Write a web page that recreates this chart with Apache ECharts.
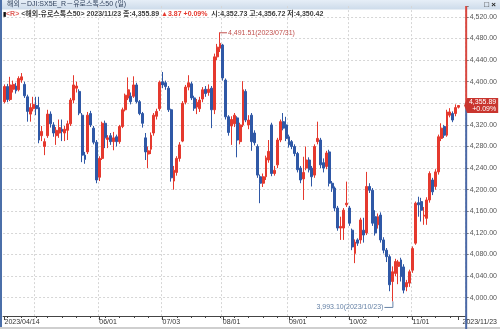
<!DOCTYPE html>
<html><head><meta charset="utf-8">
<script src="https://cdn.jsdelivr.net/npm/echarts@6/dist/echarts.min.js"></script>
<style>html,body{margin:0;padding:0;background:#fff;overflow:hidden}#c{width:500px;height:329px}</style>
</head><body><div id="c"></div>
<script>
const dates = [
'2023/04/14','2023/04/17','2023/04/18','2023/04/19','2023/04/20','2023/04/21','2023/04/24','2023/04/25','2023/04/26','2023/04/27','2023/04/28',
'2023/05/02','2023/05/03','2023/05/04','2023/05/05','2023/05/08','2023/05/09','2023/05/10','2023/05/11','2023/05/12','2023/05/15','2023/05/16','2023/05/17','2023/05/18','2023/05/19','2023/05/22','2023/05/23','2023/05/24','2023/05/25','2023/05/26','2023/05/29','2023/05/30','2023/05/31',
'2023/06/01','2023/06/02','2023/06/05','2023/06/06','2023/06/07','2023/06/08','2023/06/09','2023/06/12','2023/06/13','2023/06/14','2023/06/15','2023/06/16','2023/06/19','2023/06/20','2023/06/21','2023/06/22','2023/06/23','2023/06/26','2023/06/27','2023/06/28','2023/06/29','2023/06/30',
'2023/07/03','2023/07/04','2023/07/05','2023/07/06','2023/07/07','2023/07/10','2023/07/11','2023/07/12','2023/07/13','2023/07/14','2023/07/17','2023/07/18','2023/07/19','2023/07/20','2023/07/21','2023/07/24','2023/07/25','2023/07/26','2023/07/27','2023/07/28','2023/07/31',
'2023/08/01','2023/08/02','2023/08/03','2023/08/04','2023/08/07','2023/08/08','2023/08/09','2023/08/10','2023/08/11','2023/08/14','2023/08/15','2023/08/16','2023/08/17','2023/08/18','2023/08/21','2023/08/22','2023/08/23','2023/08/24','2023/08/25','2023/08/28','2023/08/29','2023/08/30','2023/08/31',
'2023/09/01','2023/09/04','2023/09/05','2023/09/06','2023/09/07','2023/09/08','2023/09/11','2023/09/12','2023/09/13','2023/09/14','2023/09/15','2023/09/18','2023/09/19','2023/09/20','2023/09/21','2023/09/22','2023/09/25','2023/09/26','2023/09/27','2023/09/28','2023/09/29',
'2023/10/02','2023/10/03','2023/10/04','2023/10/05','2023/10/06','2023/10/09','2023/10/10','2023/10/11','2023/10/12','2023/10/13','2023/10/16','2023/10/17','2023/10/18','2023/10/19','2023/10/20','2023/10/23','2023/10/24','2023/10/25','2023/10/26','2023/10/27','2023/10/30','2023/10/31',
'2023/11/01','2023/11/02','2023/11/03','2023/11/06','2023/11/07','2023/11/08','2023/11/09','2023/11/10','2023/11/13','2023/11/14','2023/11/15','2023/11/16','2023/11/17','2023/11/20','2023/11/21','2023/11/22','2023/11/23'
];
const open = [
4363,4391,4367,4386,4392,4385,4403,4395,4372,4340,4350,
4356,4352,4300,4280,4300,4340,4320,4300,4305,4312,4305,4310,4322,4366,4388,4382,4338,4264,4270,4341,4314,4288,
4223,4258,4323,4293,4300,4289,4298,4289,4317,4348,4370,4373,4373,4394,4363,4341,4296,4266,4275,4305,4336,4350,
4400,4398,4388,4348,4216,4232,4258,4290,4362,4390,4396,4370,4353,4350,4368,4386,4380,4388,4348,4446,4462,
4468,4403,4335,4318,4322,4333,4289,4320,4382,4320,4338,4305,4280,4224,4212,4224,4255,4320,4230,4246,4292,4326,4320,
4298,4289,4280,4267,4240,4220,4240,4255,4240,4227,4289,4292,4250,4243,4270,4212,4203,4166,4129,4129,4172,
4166,4125,4082,4107,4107,4125,4120,4206,4199,4150,4135,4153,4107,4088,4076,4030,4045,4058,4070,4057,4020,4027,
4051,4101,4176,4178,4151,4147,4181,4218,4206,4233,4295,4317,4301,4338,4341,4341,4352.73
];
const close = [
4391,4367,4394,4395,4383,4406,4409,4374,4345,4352,4358,
4350,4292,4308,4289,4340,4322,4305,4310,4315,4308,4312,4322,4366,4394,4392,4342,4264,4256,4338,4320,4288,4218,
4258,4323,4296,4296,4289,4296,4289,4317,4348,4375,4385,4363,4394,4363,4341,4323,4270,4272,4301,4338,4345,4399,
4394,4391,4348,4222,4236,4258,4283,4360,4390,4398,4370,4351,4362,4366,4385,4378,4386,4348,4446,4464,4471,
4407,4335,4306,4330,4338,4292,4320,4385,4329,4329,4289,4287,4227,4212,4224,4259,4271,4230,4236,4292,4326,4314,4295,
4283,4280,4267,4237,4218,4232,4255,4237,4224,4280,4295,4246,4240,4268,4212,4203,4166,4129,4132,4162,4175,
4138,4094,4103,4101,4144,4116,4206,4199,4138,4120,4150,4107,4088,4076,4024,4048,4067,4066,4039,4014,4028,4048,
4091,4175,4172,4162,4153,4181,4230,4196,4233,4298,4314,4301,4344,4344,4329,4352.02,4355.89
];
const low = [
4360,4362,4364,4380,4378,4382,4398,4370,4326,4326,4345,
4338,4286,4290,4264,4296,4315,4298,4283,4296,4290,4290,4292,4318,4360,4380,4338,4251,4248,4266,4316,4284,4212,
4216,4255,4277,4277,4283,4273,4280,4285,4314,4345,4366,4358,4370,4360,4338,4315,4255,4240,4266,4300,4330,4346,
4388,4385,4344,4215,4200,4226,4252,4288,4358,4384,4366,4346,4340,4344,4362,4372,4374,4314,4340,4440,4455,
4402,4330,4300,4283,4316,4260,4284,4316,4325,4312,4272,4282,4222,4175,4205,4218,4250,4225,4226,4240,4288,4310,4290,
4278,4275,4262,4232,4212,4181,4236,4232,4206,4222,4284,4240,4232,4238,4206,4196,4160,4124,4107,4107,4168,
4133,4088,4064,4096,4100,4102,4116,4194,4133,4115,4128,4102,4082,4066,4012,3993.10,4040,4025,4030,4008,4012,4020,
4046,4098,4150,4141,4135,4135,4176,4190,4200,4228,4290,4296,4298,4334,4325,4336,4350.42
];
const high = [
4395,4396,4409,4402,4398,4410,4416,4400,4376,4360,4372,
4372,4372,4318,4295,4348,4345,4325,4316,4330,4330,4318,4328,4370,4412,4400,4386,4342,4270,4344,4346,4318,4292,
4262,4326,4328,4301,4305,4307,4302,4320,4352,4378,4408,4380,4410,4398,4366,4344,4305,4280,4306,4342,4350,4402,
4418,4402,4392,4350,4244,4262,4288,4364,4394,4412,4400,4374,4368,4372,4390,4392,4395,4392,4452,4470,4491.51,
4470,4406,4338,4336,4342,4336,4324,4401,4386,4338,4342,4310,4284,4228,4230,4263,4292,4324,4244,4296,4330,4342,4335,
4302,4292,4284,4270,4244,4261,4280,4260,4244,4284,4326,4296,4258,4272,4274,4216,4206,4170,4150,4166,4215,
4170,4128,4108,4110,4148,4148,4233,4212,4203,4162,4156,4158,4112,4092,4080,4058,4072,4070,4074,4062,4033,4052,
4095,4178,4187,4185,4168,4186,4234,4222,4238,4302,4323,4320,4348,4351,4345,4358,4356.72
];
const yRange = [3960, 4540];
const yStep = 40;
const axisLabelDates = ['2023/04/14','2023/06/01','2023/07/03','2023/08/01','2023/09/01','2023/10/02','2023/11/01','2023/11/23'];
const monthLineDates = ['2023/05/02','2023/06/01','2023/07/03','2023/08/01','2023/09/01','2023/10/02','2023/11/01'];
const titleText = '해외－DJI:SX5E_R－유로스톡스50 (일)';
const infoName = '<해외-유로스톡스50>';

const UP = '#e5392e', DOWN = '#2f58a6';
const FONT = "'Liberation Sans','Noto Sans CJK KR',sans-serif";
const FS = 7;
const fmt = v => v.toLocaleString('en-US', {minimumFractionDigits: 2, maximumFractionDigits: 2});

const n = dates.length, lastIdx = n - 1;
let maxIdx = 0, minIdx = 0;
for (let i = 0; i < n; i++) { if (high[i] > high[maxIdx]) maxIdx = i; if (low[i] < low[minIdx]) minIdx = i; }
const chg = close[lastIdx] - close[lastIdx - 1];
const pct = chg / close[lastIdx - 1] * 100;
const sign = chg >= 0 ? '+' : '-';

const xCats = dates.concat([' ', '  ']);
const labelSet = new Set(axisLabelDates);
const monthSet = new Set(monthLineDates);
const weekStart = new Set();
for (let i = 1; i < n; i++) {
  const a = new Date(dates[i - 1].replace(/\//g, '-')), b = new Date(dates[i].replace(/\//g, '-'));
  if (b.getDay() < a.getDay() || (b - a) > 4 * 86400000) weekStart.add(dates[i]);
}
const splitColors = [];
for (let v = yRange[0]; v <= yRange[1]; v += yStep) splitColors.push(v === yRange[0] || v === yRange[1] ? 'rgba(0,0,0,0)' : '#d6d6d6');

function annoRender(params, api) {
  const kind = api.value(2);
  const idx = api.value(0), val = api.value(1);
  const p = api.coord([idx, val]);
  const txt = fmt(val) + '(' + dates[idx] + ')';
  if (kind === 0) {
    const c = '#c0504d';
    return {type: 'group', children: [
      {type: 'polyline', shape: {points: [[p[0], p[1] + 0.5], [p[0] + 7, p[1] + 0.5]]}, style: {stroke: c, lineWidth: 1, fill: null}},
      {type: 'text', x: p[0] + 8, y: p[1] + 0.5, style: {text: txt, fill: c, font: FS + 'px ' + FONT, textVerticalAlign: 'middle', textAlign: 'left'}}
    ]};
  }
  const c = '#6682a6';
  return {type: 'group', children: [
    {type: 'polyline', shape: {points: [[p[0] + 0.5, p[1]], [p[0] + 0.5, p[1] + 6], [p[0] - 8, p[1] + 6]]}, style: {stroke: c, lineWidth: 1, fill: null}},
    {type: 'text', x: p[0] - 9, y: p[1] + 6, style: {text: txt, fill: c, font: FS + 'px ' + FONT, textVerticalAlign: 'middle', textAlign: 'right'}}
  ]};
}
function tagRender(params, api) {
  const cs = params.coordSys;
  const p = api.coord([api.value(0), api.value(1)]);
  const xr = cs.x + cs.width + 0.5;
  const y = p[1];
  const bottom = cs.y + cs.height - 3.3;
  return {type: 'group', children: [
    {type: 'line', shape: {x1: xr, y1: cs.y, x2: xr, y2: y}, style: {stroke: '#d9473f', lineWidth: 2}},
    {type: 'line', shape: {x1: xr, y1: y, x2: xr, y2: bottom + 13}, style: {stroke: '#4a68a6', lineWidth: 2}},
    {type: 'polygon', shape: {points: [[xr - 2, y], [xr + 1, y - 7.5], [xr + 32, y - 7.5], [xr + 32, y + 7.5], [xr + 1, y + 7.5]]}, style: {fill: '#c9352e'}},
    {type: 'text', x: xr + 30, y: y - 3.4, style: {text: fmt(api.value(1)), fill: '#fff', font: '7px ' + FONT, textAlign: 'right', textVerticalAlign: 'middle'}},
    {type: 'text', x: xr + 30, y: y + 3.4, style: {text: sign + Math.abs(pct).toFixed(2) + '%', fill: '#fff', font: '7px ' + FONT, textAlign: 'right', textVerticalAlign: 'middle'}}
  ]};
}

const chart = echarts.init(document.getElementById('c'), null, {renderer: 'canvas'});
const gridLeft = 3.06, bandW = 2.88;
chart.setOption({
  animation: false,
  backgroundColor: '#fff',
  title: [
    {text: titleText, left: 7, top: 1, padding: 0, textStyle: {fontSize: FS, fontWeight: 'normal', color: '#33445f', fontFamily: FONT}},
    {text: '{mk|▮}{r|<R>} {t|' + infoName + ' ' + dates[lastIdx] + ' 종:' + fmt(close[lastIdx]) + ' }{up|▲' + Math.abs(chg).toFixed(2) + ' ' + sign + pct.toFixed(2) + '%}{t|  시:' + fmt(open[lastIdx]) + ' 고:' + fmt(high[lastIdx]) + ' 저:' + fmt(low[lastIdx]) + '}',
     left: 3, top: 11, padding: 0,
     textStyle: {fontSize: FS, fontFamily: FONT, rich: {
       mk: {fontSize: 6, color: '#111', fontFamily: FONT},
       r: {fontSize: FS, color: '#e0625c', fontFamily: FONT},
       t: {fontSize: FS, color: '#3d3d3d', fontFamily: FONT},
       up: {fontSize: FS, color: '#e5392e', fontFamily: FONT}
     }}}
  ],
  graphic: [
    {type: 'rect', left: 0, top: 0, shape: {width: 500, height: 9.5}, z: -1, zlevel: 0,
     style: {fill: new echarts.graphic.LinearGradient(0, 0, 0, 1, [{offset: 0, color: '#e6eef7'}, {offset: 1, color: '#cddbea'}])}},
    {type: 'text', right: 4, top: 0.5, style: {text: '□ ×', font: 'bold 8px ' + FONT, fill: '#222'}},
    {type: 'rect', left: 0, top: 0, shape: {width: 2, height: 329}, style: {fill: '#4b6fa9'}},
    {type: 'rect', left: 0, top: 327, shape: {width: 500, height: 2}, style: {fill: '#cfcfcf'}}
  ],
  grid: {left: gridLeft, top: 6.1, right: 500 - (gridLeft + bandW * xCats.length), bottom: 9.7, containLabel: false},
  xAxis: [{
    type: 'category', data: xCats, boundaryGap: true, offset: -3.3,
    axisLine: {show: true, lineStyle: {color: '#444', width: 1}},
    axisTick: {show: true, alignWithLabel: true, length: 4, interval: (i, v) => labelSet.has(v), lineStyle: {color: '#444'}},
    axisLabel: {show: true, margin: 3, interval: (i, v) => labelSet.has(v), align: 'left',
      color: '#333', fontSize: FS, fontFamily: FONT,
      formatter: (v, i) => i === 0 ? v : (i === lastIdx ? '{last|' + v + '}' : v.slice(5)),
      rich: {last: {padding: [0, 0, 0, 4], fontSize: FS, color: '#333', fontFamily: FONT}}},
    splitLine: {show: true, interval: (i, v) => monthSet.has(v), lineStyle: {color: '#d6d6d6', type: [2, 2], width: 1}}
  }, {
    type: 'category', data: xCats, boundaryGap: true, offset: -3.3, position: 'bottom',
    axisLine: {show: false}, axisLabel: {show: false}, splitLine: {show: false},
    axisTick: {show: true, alignWithLabel: true, length: 2, interval: (i, v) => weekStart.has(v), lineStyle: {color: '#444'}}
  }],
  yAxis: {
    type: 'value', position: 'right', min: yRange[0], max: yRange[1], interval: yStep, scale: true,
    axisLine: {show: false},
    axisTick: {show: true, length: 3, lineStyle: {color: '#777'}},
    axisLabel: {margin: 4, color: '#555', fontSize: FS, fontFamily: FONT,
      formatter: v => (v === yRange[0] || v === yRange[1]) ? '' : fmt(v)},
    splitLine: {show: true, lineStyle: {color: splitColors, type: [2, 2], width: 1}}
  },
  series: [
    {type: 'candlestick', name: 'SX5E', barWidth: 2.4,
     data: dates.map((d, i) => [open[i], close[i], low[i], high[i]]),
     itemStyle: {color: UP, color0: DOWN, borderColor: UP, borderColor0: DOWN, borderWidth: 1}},
    {type: 'custom', data: [[maxIdx, high[maxIdx], 0], [minIdx, low[minIdx], 1]], renderItem: annoRender, clip: false, z: 5, silent: true},
    {type: 'custom', data: [[lastIdx, close[lastIdx]]], renderItem: tagRender, clip: false, z: 6, silent: true}
  ]
});
</script></body></html>
